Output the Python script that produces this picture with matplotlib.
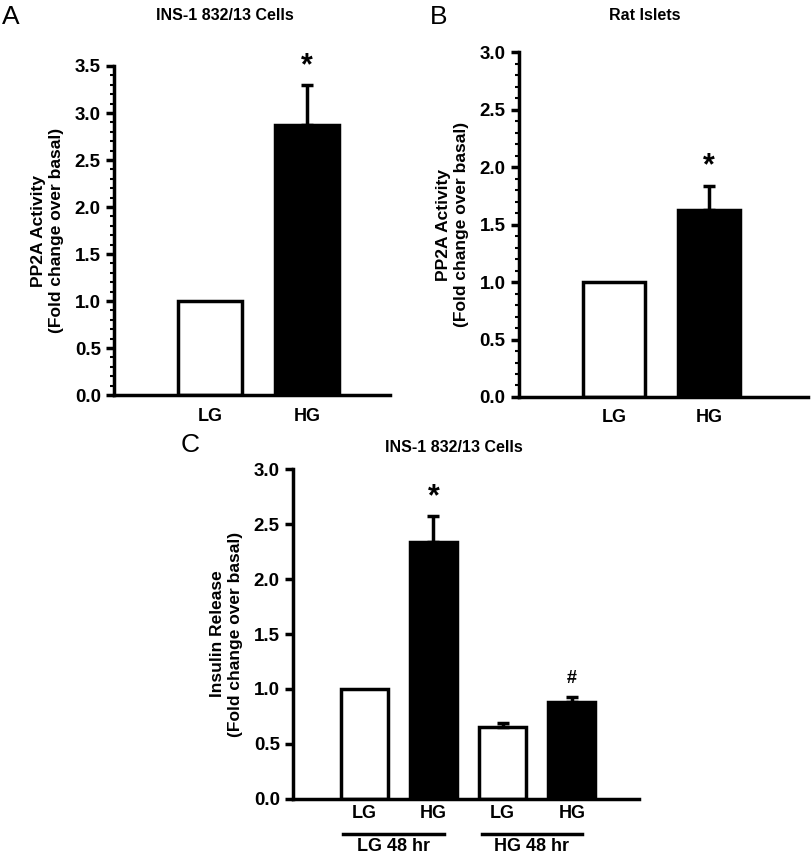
import matplotlib
matplotlib.use("Agg")
import matplotlib.pyplot as plt
from matplotlib.ticker import MultipleLocator

plt.rcParams['font.family'] = ['Liberation Sans', 'DejaVu Sans']
plt.rcParams['font.weight'] = 'bold'

# data
a_labels = ["LG", "HG"]
a_means = [1.0, 2.87]
a_err = [0.0, 0.43]
a_marks = ["", "*"]

b_labels = ["LG", "HG"]
b_means = [1.0, 1.63]
b_err = [0.0, 0.21]
b_marks = ["", "*"]

c_labels = ["LG", "HG", "LG", "HG"]
c_means = [1.0, 2.34, 0.65, 0.88]
c_err = [0.0, 0.23, 0.04, 0.05]
c_marks = ["", "*", "", "#"]
c_groups = ["LG 48 hr", "HG 48 hr"]

colors = ["white", "black"]


def draw_panel(ax, labels, means, errs, marks, ymax, minor, width, xpad):
    x = list(range(len(means)))
    cols = [colors[i % 2] for i in x]
    ax.bar(x, means, width=width, color=cols, edgecolor="black", linewidth=2.5, zorder=2)
    for xi, m, e in zip(x, means, errs):
        if e > 0:
            ax.errorbar(xi, m, yerr=[[0], [e]], fmt="none", ecolor="black",
                        elinewidth=2.5, capsize=4, capthick=2.5, zorder=3)
    for xi, m, e, mk in zip(x, means, errs, marks):
        if mk == "*":
            ax.text(xi, m + e + ymax * 0.012, mk, ha="center", va="bottom",
                    fontsize=22, fontweight="bold")
        elif mk:
            ax.text(xi, m + e + ymax * 0.03, mk, ha="center", va="bottom",
                    fontsize=13, fontweight="bold")
    ax.set_ylim(0, ymax)
    ax.yaxis.set_major_locator(MultipleLocator(0.5))
    if minor:
        ax.yaxis.set_minor_locator(MultipleLocator(0.1))
    ax.yaxis.set_major_formatter(plt.FormatStrFormatter("%.1f"))
    ax.set_xticks(x)
    ax.set_xticklabels(labels, fontsize=13, fontweight="bold")
    ax.tick_params(axis="x", length=0, pad=xpad)
    ax.tick_params(axis="y", which="major", length=6, width=2.5, labelsize=13.5)
    ax.tick_params(axis="y", which="minor", length=3, width=1.5)
    for lab in ax.get_yticklabels():
        lab.set_fontweight("bold")
    for s in ["top", "right"]:
        ax.spines[s].set_visible(False)
    for s in ["left", "bottom"]:
        ax.spines[s].set_linewidth(2.5)


fig = plt.figure(figsize=(8.12, 8.57), dpi=100)

axA = fig.add_axes([0.1404, 0.539, 0.340, 0.384])
draw_panel(axA, a_labels, a_means, a_err, a_marks, 3.5, True, 0.66, 9)
axA.set_xlim(-0.99, 1.86)
axA.set_ylabel("PP2A Activity\n(Fold change over basal)", fontsize=12.5, fontweight="bold", labelpad=8)

axB = fig.add_axes([0.639, 0.5368, 0.356, 0.402])
draw_panel(axB, b_labels, b_means, b_err, b_marks, 3.0, True, 0.66, 9)
axB.set_xlim(-1.0, 2.04)
axB.set_ylabel("PP2A Activity\n(Fold change over basal)", fontsize=12.5, fontweight="bold", labelpad=8)

axC = fig.add_axes([0.3608, 0.0677, 0.426, 0.385])
draw_panel(axC, c_labels, c_means, c_err, c_marks, 3.0, False, 0.68, 4)
axC.set_xlim(-1.03, 3.97)
axC.set_ylabel("Insulin Release\n(Fold change over basal)", fontsize=12.5, fontweight="bold", labelpad=8)

# group lines under panel C
for gi, g in enumerate(c_groups):
    x0 = 2 * gi - 0.3
    x1 = 2 * gi + 1.15
    axC.plot([x0, x1], [-0.106, -0.106], color="black", lw=2.5, clip_on=False,
             transform=axC.get_xaxis_transform())
    axC.text((x0 + x1) / 2, -0.118, g, ha="center", va="top", fontsize=13,
             fontweight="bold", transform=axC.get_xaxis_transform())

# titles and panel letters
fig.text(0.277, 0.982, "INS-1 832/13 Cells", ha="center", va="center", fontsize=11.5, fontweight="bold")
fig.text(0.794, 0.982, "Rat Islets", ha="center", va="center", fontsize=11.5, fontweight="bold")
fig.text(0.559, 0.478, "INS-1 832/13 Cells", ha="center", va="center", fontsize=11.5, fontweight="bold")
fig.text(0.003, 0.980, "A", ha="left", va="center", fontsize=19, fontweight="normal")
fig.text(0.530, 0.980, "B", ha="left", va="center", fontsize=19, fontweight="normal")
fig.text(0.222, 0.481, "C", ha="left", va="center", fontsize=19, fontweight="normal")

fig.savefig("out.png", dpi=100)
